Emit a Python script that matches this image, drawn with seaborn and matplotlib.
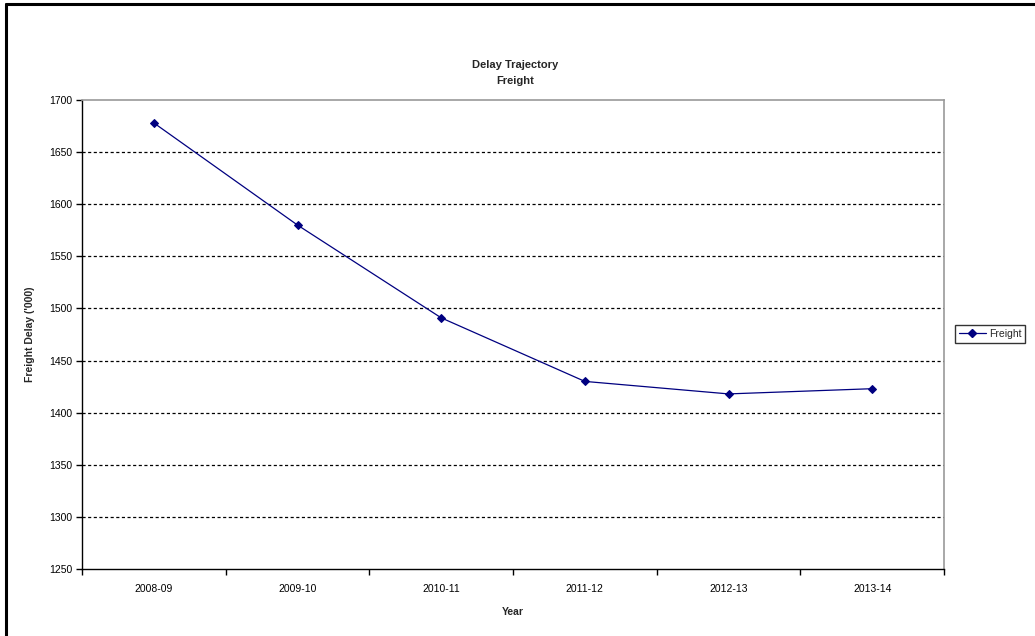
import matplotlib
matplotlib.use("Agg")
import matplotlib.pyplot as plt
from matplotlib.lines import Line2D
from matplotlib.ticker import FixedLocator
import numpy as np
import pandas as pd
import seaborn as sns

# Freight delay trajectory, thousands of minutes per year
years = ["2008-09", "2009-10", "2010-11", "2011-12", "2012-13", "2013-14"]
freight_delay = [1678, 1580, 1491, 1430, 1418, 1423]
y_ticks = [1250, 1300, 1350, 1400, 1450, 1500, 1550, 1600, 1650, 1700]

sns.set_theme(style="white")
plt.rcParams["font.family"] = ["Liberation Sans", "DejaVu Sans"]

W, H = 1035, 636
fig = plt.figure(figsize=(W / 100, H / 100), dpi=100)
fig.patch.set_facecolor("white")

# plot area in pixel terms
left, right, top, bottom = 82, 944, 100, 569
ax = fig.add_axes([left / W, (H - bottom) / H, (right - left) / W, (bottom - top) / H])

df = pd.DataFrame({"Year": years, "Freight": freight_delay})
sns.lineplot(data=df, x="Year", y="Freight", ax=ax, color="#000080",
             linewidth=0.9, marker="D", markersize=4.2,
             markeredgecolor="#000080", markerfacecolor="#000080",
             label="Freight", legend=False)

ax.set_xlim(-0.5, len(years) - 0.5)
ax.set_ylim(y_ticks[0], y_ticks[-1])
ax.yaxis.set_major_locator(FixedLocator(y_ticks))

# category labels centred, tick marks between categories
ax.set_xticks(range(len(years)))
ax.set_xticklabels(years)
ax.xaxis.set_minor_locator(FixedLocator(np.arange(-0.5, len(years), 1.0)))
ax.tick_params(axis="x", which="major", length=0, pad=11, labelsize=7.5, colors="black")
ax.tick_params(axis="x", which="minor", length=4, width=1, color="black", direction="out", bottom=True)
ax.tick_params(axis="y", which="major", length=4, width=1, color="black", direction="out",
               left=True, pad=3, labelsize=7.5, labelcolor="black")

# dashed horizontal gridlines
for v in y_ticks[1:-1]:
    ax.axhline(v, color="black", linewidth=0.9, linestyle=(0, (2.5, 2)), zorder=0.5)

for side in ("left", "bottom"):
    ax.spines[side].set_color("black")
    ax.spines[side].set_linewidth(1.0)
for side in ("top", "right"):
    ax.spines[side].set_color("#9a9a9a")
    ax.spines[side].set_linewidth(1.2)
    ax.spines[side].set_visible(True)

ax.set_xlabel("Year", fontsize=7.5, fontweight="bold", labelpad=8)
ax.set_ylabel("Freight Delay ('000)", fontsize=7.5, fontweight="bold", labelpad=14)
ax.xaxis.set_label_coords((513 - left) / (right - left), -(607 - bottom) / (bottom - top))
ax.yaxis.set_label_coords(-(82 - 35) / (right - left), 0.5)

fig.text(515 / W, 1 - 65 / H, "Delay Trajectory", ha="center", va="center",
         fontsize=8, fontweight="bold")
fig.text(515 / W, 1 - 81 / H, "Freight", ha="center", va="center",
         fontsize=8, fontweight="bold")

# legend box on the right
handle = Line2D([], [], color="#000080", linewidth=0.9, marker="D", markersize=4.2,
                markerfacecolor="#000080", markeredgecolor="#000080")
leg = fig.legend([handle], ["Freight"], loc="center", bbox_to_anchor=(990 / W, 1 - 334 / H),
                 fontsize=7.5, frameon=True, fancybox=False, handlelength=2.6,
                 handletextpad=0.3, borderpad=0.35, borderaxespad=0)
leg.get_frame().set_edgecolor("black")
leg.get_frame().set_linewidth(1.0)

# outer chart border (top and left edges)
fig.add_artist(Line2D([6 / W, 1.0], [1 - 4 / H, 1 - 4 / H], color="black", linewidth=2.2,
                      transform=fig.transFigure))
fig.add_artist(Line2D([6 / W, 6 / W], [0, 1 - 4 / H], color="black", linewidth=2.2,
                      transform=fig.transFigure))

fig.savefig("out.png", dpi=100, facecolor="white")
